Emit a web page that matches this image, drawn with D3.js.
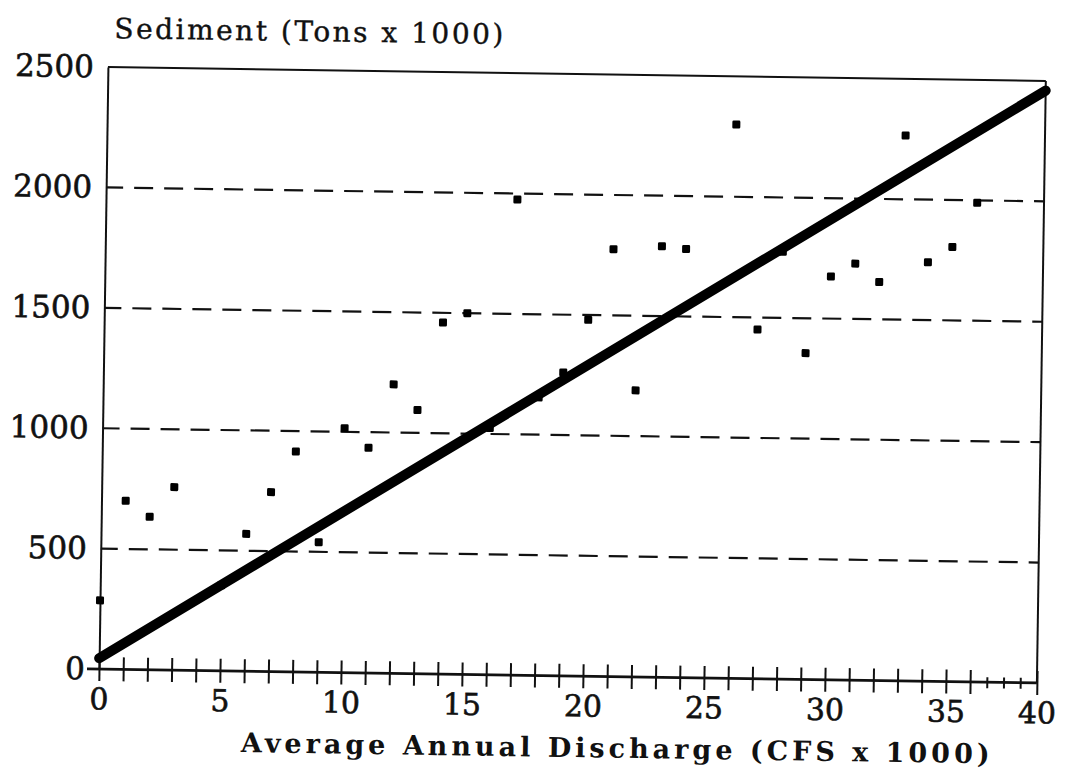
<!DOCTYPE html>
<html>
<head>
<meta charset="utf-8">
<script src="https://cdn.jsdelivr.net/npm/d3@7"></script>
<style>
  body { margin: 0; background: #fff; }
  text { font-family: "DejaVu Serif", serif; fill: #111; }
</style>
</head>
<body>
<div id="chart"></div>
<script>
// discharge (CFS x 1000) and sediment (tons x 1000)
const discharge = [0, 1, 2, 3, 5, 6, 7, 8, 9, 10, 11, 12, 13,
    14, 15, 16, 17, 18, 19, 20, 21, 22, 23, 24, 26, 27, 28,
    29, 30, 31, 32, 33, 34, 35, 36];
const sediment = [285, 700, 635, 760, 355, 570, 745, 915, 540, 1015, 935, 1200, 1095,
    1460, 1500, 1025, 1975, 1155, 1260, 1480, 1775, 1190, 1790, 1780, 2300, 1450, 1775,
    1355, 1675, 1730, 1655, 2265, 1740, 1805, 1990];

// fitted line end points
const fitX = [0, 40];
const fitY = [45, 2460];

const yTickValues = [0, 500, 1000, 1500, 2000, 2500];
const gridValues = [500, 1000, 1500, 2000];
const xLabelValues = [0, 5, 10, 15, 20, 25, 30, 35, 40];
const xMinorTicks = d3.range(0, 41);

const margin = {top: 67, left: 99};
const plotW = 938, plotH = 602;

const svg = d3.select("#chart").append("svg")
    .attr("width", 1082)
    .attr("height", 779);

// the scanned page is turned a little clockwise
const page = svg.append("g")
    .attr("transform", `rotate(0.85, ${margin.left}, ${margin.top + plotH})`);

const g = page.append("g")
    .attr("transform", `translate(${margin.left}, ${margin.top})`);

// the copy is squeezed at the right end of the axis (past 36)
const unit = 24.2;
const x = d3.scaleLinear().domain([0, 36, 40]).range([0, 36 * unit, plotW]);
const y = d3.scaleLinear().domain([0, 2500]).range([plotH, 0]);

// dashed grid lines
g.selectAll(".grid")
    .data(gridValues)
    .enter()
    .append("line")
    .attr("x1", 0)
    .attr("x2", plotW)
    .attr("y1", d => y(d))
    .attr("y2", d => y(d))
    .attr("stroke", "#111")
    .attr("stroke-width", 2.2)
    .attr("stroke-dasharray", "19,11")
    .attr("stroke-dashoffset", 2);

// frame: top and right
g.append("line")
    .attr("x1", 0).attr("x2", plotW)
    .attr("y1", 0).attr("y2", 0)
    .attr("stroke", "#111").attr("stroke-width", 2);
g.append("line")
    .attr("x1", plotW).attr("x2", plotW)
    .attr("y1", 0).attr("y2", plotH)
    .attr("stroke", "#111").attr("stroke-width", 2);

// left axis with labels
const yAxis = g.append("g")
    .call(d3.axisLeft(y).tickValues(yTickValues).tickFormat(d3.format("d")).tickSize(0).tickPadding(14));
yAxis.select(".domain").attr("stroke", "#111").attr("stroke-width", 2);
yAxis.selectAll("text")
    .style("font-family", "DejaVu Serif")
    .attr("font-size", 31)
    .attr("fill", "#111")
    .attr("stroke", "#111")
    .attr("stroke-width", 0.6);

// bottom axis: minor ticks crossing the line
const xTicks = g.append("g")
    .attr("transform", `translate(0, ${plotH})`)
    .call(d3.axisBottom(x).tickValues(xMinorTicks).tickFormat("").tickSizeOuter(0));
xTicks.select(".domain").remove();
xTicks.selectAll(".tick line")
    .attr("y1", d => d > 36 && d < 40 ? -5 : -12)
    .attr("y2", d => d > 36 && d < 40 ? 6 : 12)
    .attr("stroke", "#111")
    .attr("stroke-width", 2);

g.append("line")
    .attr("x1", -12).attr("x2", plotW)
    .attr("y1", plotH).attr("y2", plotH)
    .attr("stroke", "#111").attr("stroke-width", 2.8);

const xLabels = g.append("g")
    .attr("transform", `translate(0, ${plotH})`)
    .call(d3.axisBottom(x).tickValues(xLabelValues).tickSize(0).tickPadding(19));
xLabels.select(".domain").remove();
xLabels.selectAll("text")
    .style("font-family", "DejaVu Serif")
    .attr("font-size", 30)
    .attr("fill", "#111")
    .attr("stroke", "#111")
    .attr("stroke-width", 0.6);

// fitted line
const line = d3.line()
    .x(d => x(d[0]))
    .y(d => y(d[1]));

g.append("path")
    .datum(d3.zip(fitX, fitY))
    .attr("d", line)
    .attr("fill", "none")
    .attr("stroke", "#000")
    .attr("stroke-width", 10)
    .attr("stroke-linecap", "round");

// observations
g.selectAll(".pt")
    .data(d3.zip(discharge, sediment))
    .enter()
    .append("rect")
    .attr("x", d => x(d[0]) - 4)
    .attr("y", d => y(d[1]) - 4)
    .attr("width", 8)
    .attr("height", 8)
    .attr("rx", 1.3)
    .attr("fill", "#000");

// titles
g.append("text")
    .attr("x", 6)
    .attr("y", -29)
    .attr("font-size", 28)
    .attr("letter-spacing", 2.5)
    .attr("stroke", "#111")
    .attr("stroke-width", 0.4)
    .text("Sediment (Tons x 1000)");

g.append("text")
    .attr("x", 143)
    .attr("y", plotH + 81)
    .attr("font-size", 27)
    .attr("font-weight", "bold")
    .attr("letter-spacing", 4)
    .text("Average Annual Discharge (CFS x 1000)");
</script>
</body>
</html>
